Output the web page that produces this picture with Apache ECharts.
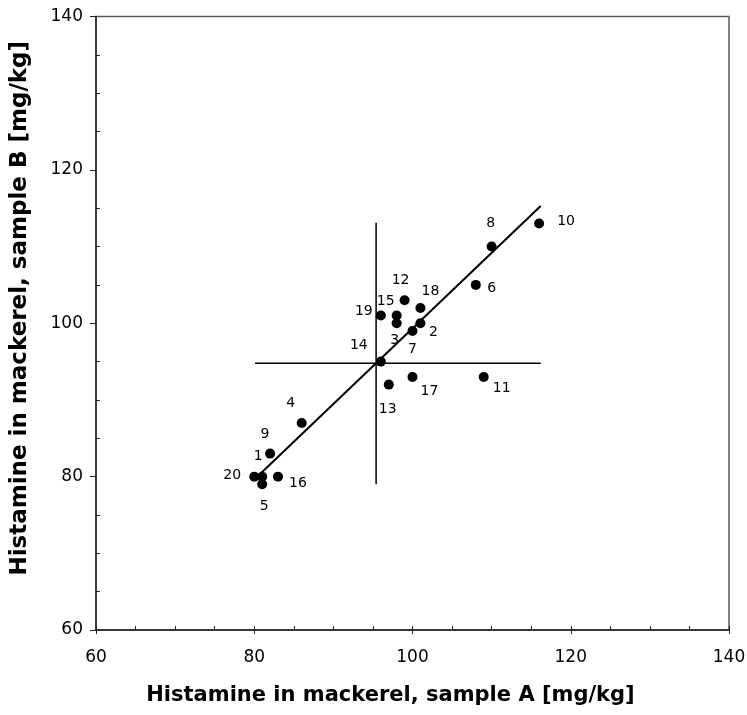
<!DOCTYPE html>
<html>
<head>
<meta charset="utf-8">
<script src="https://cdn.jsdelivr.net/npm/echarts@6/dist/echarts.min.js"></script>
<style>
html,body{margin:0;padding:0;background:#fff;}
#chart{width:747px;height:715px;}
</style>
</head>
<body>
<div id="chart"></div>
<script>
// ---- data ----
const pointIds = ['1','2','3','4','5','6','7','8','9','10','11','12','13','14','15','16','17','18','19','20'];
const sampleA = [81,101,98,86,81,108,100,110,82,116,109,99,97,96,98,83,100,101,96,80];
const sampleB = [80,100,100,87,79,105,99,110,83,113,93,103,92,95,101,80,93,102,101,80];
const fitLineA = [80.9, 116.2];
const fitLineB = [80.5, 115.3];
const meanA = 95.4;
const meanB = 94.8;
const meanLineBRange = [79.0, 113.1];
const meanLineARange = [80.1, 116.2];
const axisMin = 60, axisMax = 140, axisStep = 20;
const xTitle = 'Histamine in mackerel, sample A [mg/kg]';
const yTitle = 'Histamine in mackerel, sample B [mg/kg]';

// ---- label placement (styling) ----
const labelOffsets = [[-4,-20],[13,9],[-2,17],[-11,-20],[2,22],[16,3],[0,18],[-1,-23],[-5,-19],[27,-2],
                      [18,11],[-4,-20],[-1,25],[-22,-16],[-11,-14],[20,7],[17,14],[10,-17],[-17,-4],[-22,-1]];

const font = 'DejaVu Sans';
const chart = echarts.init(document.getElementById('chart'));

const scatterData = pointIds.map((id, i) => ({ value: [sampleA[i], sampleB[i]], name: id }));

const baseAxis = { min: axisMin, max: axisMax, interval: axisStep, splitLine: { show: false } };

chart.setOption({
  animation: false,
  grid: { left: 96, right: 18, top: 16.5, bottom: 85, show: true, borderColor: '#5a5a5a', borderWidth: 1.5,
          containLabel: false, outerBoundsMode: 'none' },
  xAxis: [
    Object.assign({}, baseAxis, {
      type: 'value', position: 'bottom',
      name: xTitle, nameLocation: 'middle', nameGap: 55,
      nameTextStyle: { fontFamily: font, fontWeight: 'bold', fontSize: 21, color: '#000', padding: [0, 44, 0, 0] },
      axisLine: { lineStyle: { color: '#222', width: 1.5 } },
      axisTick: { show: true, inside: false, length: 4, lineStyle: { color: '#222', width: 1 } },
      minorTick: { show: false },
      axisLabel: { fontFamily: font, fontSize: 17, color: '#000', margin: 19 }
    }),
    Object.assign({}, baseAxis, {
      type: 'value', position: 'bottom',
      axisLine: { show: false },
      axisTick: { show: true, inside: true, length: 4, lineStyle: { color: '#222', width: 1 } },
      minorTick: { show: true, splitNumber: 4, length: 4, lineStyle: { color: '#222', width: 1 } },
      axisLabel: { show: false }
    })
  ],
  yAxis: [
    Object.assign({}, baseAxis, {
      type: 'value', position: 'left',
      name: yTitle, nameLocation: 'middle', nameGap: 64, nameRotate: 90,
      nameTextStyle: { fontFamily: font, fontWeight: 'bold', fontSize: 23, color: '#000', padding: [0, 0, 0, 30] },
      axisLine: { lineStyle: { color: '#222', width: 1.5 } },
      axisTick: { show: true, inside: false, length: 6, lineStyle: { color: '#222', width: 1 } },
      minorTick: { show: false },
      axisLabel: { fontFamily: font, fontSize: 17, color: '#000', margin: 13 }
    }),
    Object.assign({}, baseAxis, {
      type: 'value', position: 'left', offset: 0,
      axisLine: { show: false },
      axisTick: { show: false, inside: true },
      minorTick: { show: true, splitNumber: 4, length: 4, lineStyle: { color: '#222', width: 1 } },
      axisLabel: { show: false }
    })
  ],
  series: [
    {
      type: 'line', xAxisIndex: 0, yAxisIndex: 0, symbol: 'none', silent: true,
      lineStyle: { color: '#000', width: 2 },
      data: [[fitLineA[0], fitLineB[0]], [fitLineA[1], fitLineB[1]]]
    },
    {
      type: 'line', xAxisIndex: 0, yAxisIndex: 0, symbol: 'none', silent: true,
      lineStyle: { color: '#000', width: 1.5 },
      data: [[meanA, meanLineBRange[0]], [meanA, meanLineBRange[1]]]
    },
    {
      type: 'line', xAxisIndex: 0, yAxisIndex: 0, symbol: 'none', silent: true,
      lineStyle: { color: '#000', width: 1.5 },
      data: [[meanLineARange[0], meanB], [meanLineARange[1], meanB]]
    },
    {
      type: 'scatter', xAxisIndex: 0, yAxisIndex: 0, symbol: 'circle', symbolSize: 10,
      itemStyle: { color: '#000', opacity: 1 },
      label: { show: true, position: 'inside', formatter: '{b}', fontFamily: font, fontSize: 14, color: '#000' },
      labelLayout: function (p) {
        const o = labelOffsets[p.dataIndex];
        return { dx: o[0], dy: o[1], hideOverlap: false };
      },
      data: scatterData,
      z: 5
    }
  ]
});
</script>
</body>
</html>
